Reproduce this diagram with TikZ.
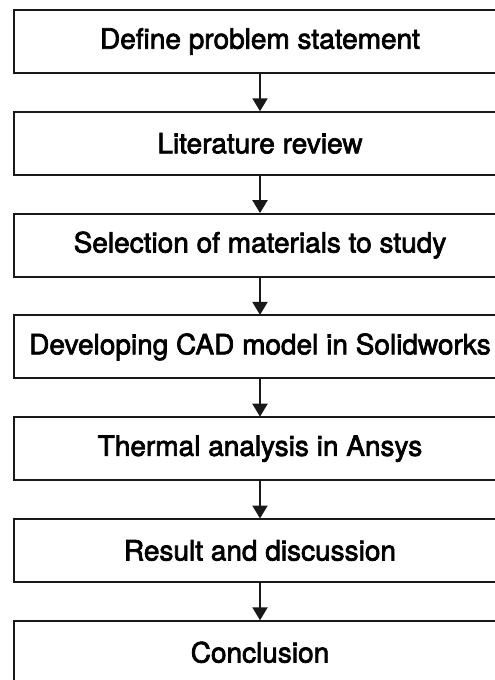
\documentclass[tikz,border=0pt]{standalone}
\usepackage{fontspec}
\newfontfamily\boxfont{TeX Gyre Heros}[FakeBold=2.5]
\usetikzlibrary{arrows.meta}
\tikzset{
  stepbox/.style={draw=black!90, line width=2pt, minimum width=492pt, minimum height=63pt,
    inner sep=0pt, font=\boxfont\fontsize{28}{32}\selectfont, text=black},
  flowarrow/.style={draw=black!90, line width=2pt, -{Triangle[width=15pt,length=13pt]}, shorten >=-0.5pt}
}
\begin{document}
\begin{tikzpicture}[x=1pt,y=-1pt]
\useasboundingbox (0,0) rectangle (495,680);
\clip (0,0) rectangle (495,680);
\node[stepbox] (b1) at (260,41.5) {Define problem statement};
\node[stepbox] (b2) at (260,143.3) {Literature review};
\node[stepbox] (b3) at (260,245.1) {Selection of materials to study};
\node[stepbox] (b4) at (260,346.9) {Developing CAD model in Solidworks};
\node[stepbox] (b5) at (260,448.7) {Thermal analysis in Ansys};
\node[stepbox] (b6) at (260,550.5) {Result and discussion};
\node[stepbox] (b7) at (260,652.3) {Conclusion};
\draw[flowarrow] (b1.south) -- (b2.north);
\draw[flowarrow] (b2.south) -- (b3.north);
\draw[flowarrow] (b3.south) -- (b4.north);
\draw[flowarrow] (b4.south) -- (b5.north);
\draw[flowarrow] (b5.south) -- (b6.north);
\draw[flowarrow] (b6.south) -- (b7.north);
\end{tikzpicture}
\end{document}
